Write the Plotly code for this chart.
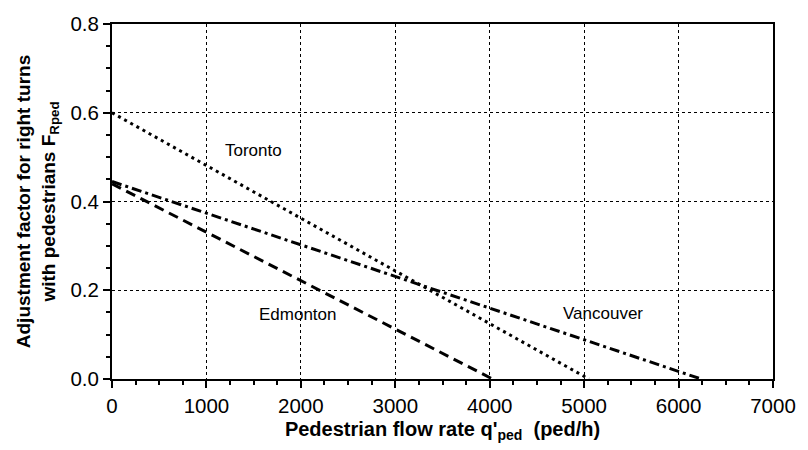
import plotly.graph_objects as go

# Data
toronto_x = [0, 5050]
toronto_y = [0.60, 0.0]
edmonton_x = [0, 4030]
edmonton_y = [0.44, 0.0]
vancouver_x = [0, 6240]
vancouver_y = [0.445, 0.0]

label_text = ["Toronto", "Edmonton", "Vancouver"]
label_x = [1500, 1970, 5200]
label_y = [0.516, 0.145, 0.147]

x_ticks = [0, 1000, 2000, 3000, 4000, 5000, 6000, 7000]
y_ticks = [0.0, 0.2, 0.4, 0.6, 0.8]
y_tick_labels = ["0.0", "0.2", "0.4", "0.6", "0.8"]

fig = go.Figure()
fig.add_trace(go.Scatter(x=toronto_x, y=toronto_y, mode="lines",
                         line=dict(color="black", width=3, dash="3px,4px"), name="Toronto"))
fig.add_trace(go.Scatter(x=edmonton_x, y=edmonton_y, mode="lines",
                         line=dict(color="black", width=3, dash="10px,6px"), name="Edmonton"))
fig.add_trace(go.Scatter(x=vancouver_x, y=vancouver_y, mode="lines",
                         line=dict(color="black", width=3, dash="10px,4px,3px,4px"), name="Vancouver"))

for t, x, y in zip(label_text, label_x, label_y):
    fig.add_annotation(x=x, y=y, text=t, showarrow=False,
                       font=dict(family="Liberation Sans, Arial", size=17, color="black"))

fig.update_layout(
    width=808, height=450,
    margin=dict(l=112, r=25, t=16, b=71),
    paper_bgcolor="white", plot_bgcolor="white",
    showlegend=False,
    font=dict(family="Liberation Sans, Arial", size=18, color="black"),
)

fig.update_xaxes(
    range=[0, 7000], tickvals=x_ticks, ticktext=[str(v) for v in x_ticks],
    showline=True, linecolor="black", linewidth=2, mirror=True,
    ticks="outside", ticklen=7, tickwidth=2, tickcolor="black",
    showgrid=True, gridcolor="black", gridwidth=1, griddash="3px,3px",
    zeroline=False,
    minor=dict(dtick=250, ticks="outside", ticklen=4, tickwidth=1.5, tickcolor="black", showgrid=False),
    tickfont=dict(size=20.5),
    title=dict(text="<b>Pedestrian flow rate q'<sub>ped</sub>  (ped/h)</b>",
               font=dict(size=20), standoff=6),
)
fig.update_yaxes(
    range=[0, 0.8], tickvals=y_ticks, ticktext=y_tick_labels,
    showline=True, linecolor="black", linewidth=2, mirror=True,
    ticks="outside", ticklen=7, tickwidth=2, tickcolor="black",
    showgrid=True, gridcolor="black", gridwidth=1, griddash="3px,3px",
    zeroline=False,
    minor=dict(dtick=0.05, ticks="outside", ticklen=4, tickwidth=1.5, tickcolor="black", showgrid=False),
    tickfont=dict(size=20.5),
    title=dict(text="<b>Adjustment factor for right turns<br>with pedestrians F<sub>Rped</sub></b>",
               font=dict(size=19), standoff=10),
)

fig.write_html("out.html")
